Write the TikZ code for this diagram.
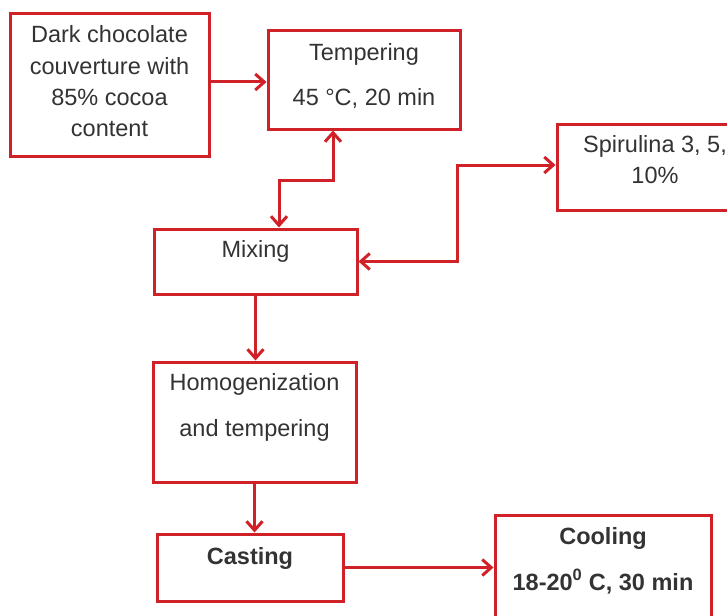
\documentclass[tikz,border=0pt]{standalone}
\usepackage{fontspec}
\setmainfont{Liberation Sans}
\usetikzlibrary{arrows.meta}
\definecolor{FlowRed}{RGB}{208,32,40}
\tikzset{box/.style={draw=FlowRed,line width=3pt,align=center,inner sep=0pt,font=\fontsize{23.5}{31}\selectfont,text=black!80}, flow/.style={draw=FlowRed,line width=3pt,-{Straight Barb[length=9pt,width=16pt]}}, biflow/.style={flow,{Straight Barb[length=9pt,width=16pt]}-{Straight Barb[length=9pt,width=16pt]}}}

\begin{document}
\begin{tikzpicture}[x=1pt,y=-1pt]
\useasboundingbox (0,0) rectangle (727,615);
\clip (0,0) rectangle (727,615);
\coordinate (jt) at (333,180);
\coordinate (jm) at (279,180);
\coordinate (js) at (457,165);
\node[box,minimum width=199pt,minimum height=142pt,text height=102pt,text depth=0pt] (choc) at (109.5,85) {Dark chocolate\\couverture with\\85\% cocoa\\content};
\node[box,minimum width=192pt,minimum height=98pt,text height=52pt,text depth=0pt] (temp) at (364,80) {Tempering\\[14pt]45 °C, 20 min};
\node[box,minimum width=203pt,minimum height=65pt,text height=0pt,text depth=9pt] (mix) at (255.5,261.5) {Mixing};
\node[box,minimum width=196pt,minimum height=86pt,text height=32pt,text depth=0pt] (spir) at (655,167) {Spirulina 3, 5,\\10\%};
\node[box,minimum width=203pt,minimum height=120pt,text height=29pt,text depth=0pt] (homog) at (254.5,422) {Homogenization\\[15pt]and tempering};
\node[box,minimum width=186pt,minimum height=67pt,text height=0pt,text depth=7pt,font=\fontsize{23.5}{31}\selectfont\bfseries] (cast) at (250,567.5) {Casting};
\node[box,minimum width=216pt,minimum height=115pt,text height=35pt,text depth=0pt,font=\fontsize{23.5}{31}\selectfont\bfseries] (cool) at (603,572.5) {Cooling\\[15pt]18-20\textsuperscript{0} C, 30 min};
\draw[flow] ([yshift=3pt]choc.east) -- ([yshift=3pt]choc.east -| temp.west);
\draw[biflow] (temp.south -| jt) -- (jt) -- (jm) -- (mix.north -| jm);
\draw[biflow] (mix.east) -| (js) -- (js -| spir.west);
\draw[flow] (mix.south) -- (mix.south |- homog.north);
\draw[flow] (homog.south) -- (homog.south |- cast.north);
\draw[flow] (cast.east) -- (cast.east -| cool.west);
\end{tikzpicture}
\end{document}
